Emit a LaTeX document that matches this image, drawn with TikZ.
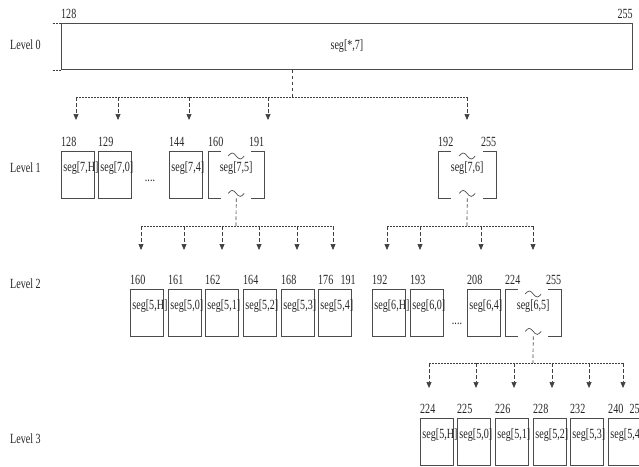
\documentclass[tikz,border=0pt]{standalone}
\usepackage{fontspec}
\setmainfont{Liberation Serif}[FakeStretch=0.72]
\usetikzlibrary{arrows.meta}

\tikzset{
  segbox/.style={draw=black!70, line width=0.9pt, anchor=north west,
    minimum width=33pt, minimum height=47pt, text width=29pt, align=left,
    inner xsep=2pt, inner ysep=0pt, text height=20pt, text depth=27pt},
  brkbox/.style={anchor=north west, minimum width=56pt, minimum height=47pt,
    inner sep=0pt, text height=20pt, text depth=27pt},
  brk/.style={draw=black!70, line width=0.9pt},
  num/.style={inner sep=0pt, yshift=5pt},
  lvl/.style={anchor=west, inner sep=0pt},
  drop/.style={draw=black!75, line width=0.7pt, dash pattern=on 3.5pt off 2.5pt},
  bus/.style={draw=black!75, line width=0.7pt, dash pattern=on 1.8pt off 1.2pt},
  arr/.style={drop, -{Triangle[width=5pt,length=6pt]}}
}

% bracket box with wavy marks
\newcommand\segbrk[1]{%
  \draw[brk] ([xshift=13pt]#1.north west) -- (#1.north west) -- (#1.south west) -- ++(13,0);
  \draw[brk] ([xshift=-13pt]#1.north east) -- (#1.north east) -- (#1.south east) -- ++(-13,0);
  \draw[brk,line width=0.7pt] (#1.north) ++(-8,5) sin ++(4,-3) cos ++(4,3) sin ++(4,3) cos ++(4,-3);
  \draw[brk,line width=0.7pt] (#1.south) ++(-8,-5) sin ++(4,-3) cos ++(4,3) sin ++(4,3) cos ++(4,-3);
}

\begin{document}
\begin{tikzpicture}[x=1pt,y=-1pt,font=\fontsize{14}{16}\selectfont,text=black!85]
\path[use as bounding box,clip] (0,0) rectangle (639,466);

% level labels
\node[lvl] (lv0) at (10,45) {Level 0};
\node[lvl] (lv1) at (10,168) {Level 1};
\node[lvl] (lv2) at (10,284) {Level 2};
\node[lvl] (lv3) at (10,439) {Level 3};

% level 0
\node[draw=black!70, line width=0.9pt, anchor=north west, minimum width=571pt,
  minimum height=46pt, inner sep=0pt] (l0) at (61,23) {seg[*,7]};
\draw[bus] (l0.north west) -- ++(-9,0);
\draw[bus] (l0.south west) -- ++(-9,0);
\node[num, anchor=base west] at (l0.north west) {128};
\node[num, anchor=base east] at (l0.north east) {255};

% level 1
\node[segbox] (s7H) at (61,151) {seg[7,H]};
\node[segbox] (s70) at (98,151) {seg[7,0]};
\node[anchor=base] (dots1) at (150,181) {....};
\node[segbox] (s74) at (169,151) {seg[7,4]};
\node[brkbox] (s75) at (208,151) {seg[7,5]};
\node[brkbox, minimum width=58pt] (s76) at (438,151) {seg[7,6]};
\segbrk{s75}
\segbrk{s76}
\node[num, anchor=base west] at (s7H.north west) {128};
\node[num, anchor=base west] at (s70.north west) {129};
\node[num, anchor=base west] at (s74.north west) {144};
\node[num, anchor=base west] at (s75.north west) {160};
\node[num, anchor=base east] at (s75.north east) {191};
\node[num, anchor=base west] at (s76.north west) {192};
\node[num, anchor=base east] at (s76.north east) {255};

% level 2
\node[segbox] (m5H) at (130,289) {seg[5,H]};
\node[segbox] (m50) at (168,289) {seg[5,0]};
\node[segbox] (m51) at (205,289) {seg[5,1]};
\node[segbox] (m52) at (243,289) {seg[5,2]};
\node[segbox] (m53) at (281,289) {seg[5,3]};
\node[segbox] (m54) at (318,289) {seg[5,4]};
\node[segbox] (m6H) at (372,289) {seg[6,H]};
\node[segbox] (m60) at (410,289) {seg[6,0]};
\node[anchor=base] (dots2) at (457,324) {....};
\node[segbox] (m64) at (467,289) {seg[6,4]};
\node[brkbox] (m65) at (505,289) {seg[6,5]};
\segbrk{m65}
\node[num, anchor=base west] at (m5H.north west) {160};
\node[num, anchor=base west] at (m50.north west) {161};
\node[num, anchor=base west] at (m51.north west) {162};
\node[num, anchor=base west] at (m52.north west) {164};
\node[num, anchor=base west] at (m53.north west) {168};
\node[num, anchor=base west] at (m54.north west) {176};
\node[num, anchor=base east] at ([xshift=4pt]m54.north east) {191};
\node[num, anchor=base west] at (m6H.north west) {192};
\node[num, anchor=base west] at (m60.north west) {193};
\node[num, anchor=base west] at (m64.north west) {208};
\node[num, anchor=base west] at (m65.north west) {224};
\node[num, anchor=base east] at (m65.north east) {255};

% level 3
\node[segbox] (t5H) at (420,418) {seg[5,H]};
\node[segbox] (t50) at (457,418) {seg[5,0]};
\node[segbox] (t51) at (495,418) {seg[5,1]};
\node[segbox] (t52) at (533,418) {seg[5,2]};
\node[segbox] (t53) at (570,418) {seg[5,3]};
\node[segbox] (t54) at (608,418) {seg[5,4]};
\node[num, anchor=base west] at (t5H.north west) {224};
\node[num, anchor=base west] at (t50.north west) {225};
\node[num, anchor=base west] at (t51.north west) {226};
\node[num, anchor=base west] at (t52.north west) {228};
\node[num, anchor=base west] at (t53.north west) {232};
\node[num, anchor=base west] at (t54.north west) {240};
\node[num, anchor=base east] at ([xshift=3pt]t54.north east) {255};

% connectors
\coordinate (b0) at (292,97);
\coordinate (b1) at (236,226);
\coordinate (b2) at (467,226);
\coordinate (b3) at (533,363);
\foreach \i/\x in {1/76,2/118,3/189,4/268,5/467}
  \coordinate (a0\i) at (\x,120);
\foreach \i/\x in {1/141,2/184,3/222,4/259,5/297,6/333}
  \coordinate (a1\i) at (\x,250);
\foreach \i/\x in {1/387,2/420,3/481,4/533}
  \coordinate (a2\i) at (\x,250);
\foreach \i/\x in {1/429,2/476,3/514,4/552,5/589,6/623}
  \coordinate (a3\i) at (\x,388);

\draw[drop] (l0.south -| b0) -- (b0);
\draw[bus] (a01 |- b0) -- (a05 |- b0);
\foreach \i in {1,...,5}
  \draw[arr] (a0\i |- b0) -- (a0\i);

\draw[drop] (s75.south) -- (b1);
\draw[bus] (a11 |- b1) -- (a16 |- b1);
\foreach \i in {1,...,6}
  \draw[arr] (a1\i |- b1) -- (a1\i);

\draw[drop] (s76.south) -- (b2);
\draw[bus] (a21 |- b2) -- (a24 |- b2);
\foreach \i in {1,...,4}
  \draw[arr] (a2\i |- b2) -- (a2\i);

\draw[drop] (m65.south) -- (b3);
\draw[bus] (a31 |- b3) -- (a36 |- b3);
\foreach \i in {1,...,6}
  \draw[arr] (a3\i |- b3) -- (a3\i);
\end{tikzpicture}
\end{document}
